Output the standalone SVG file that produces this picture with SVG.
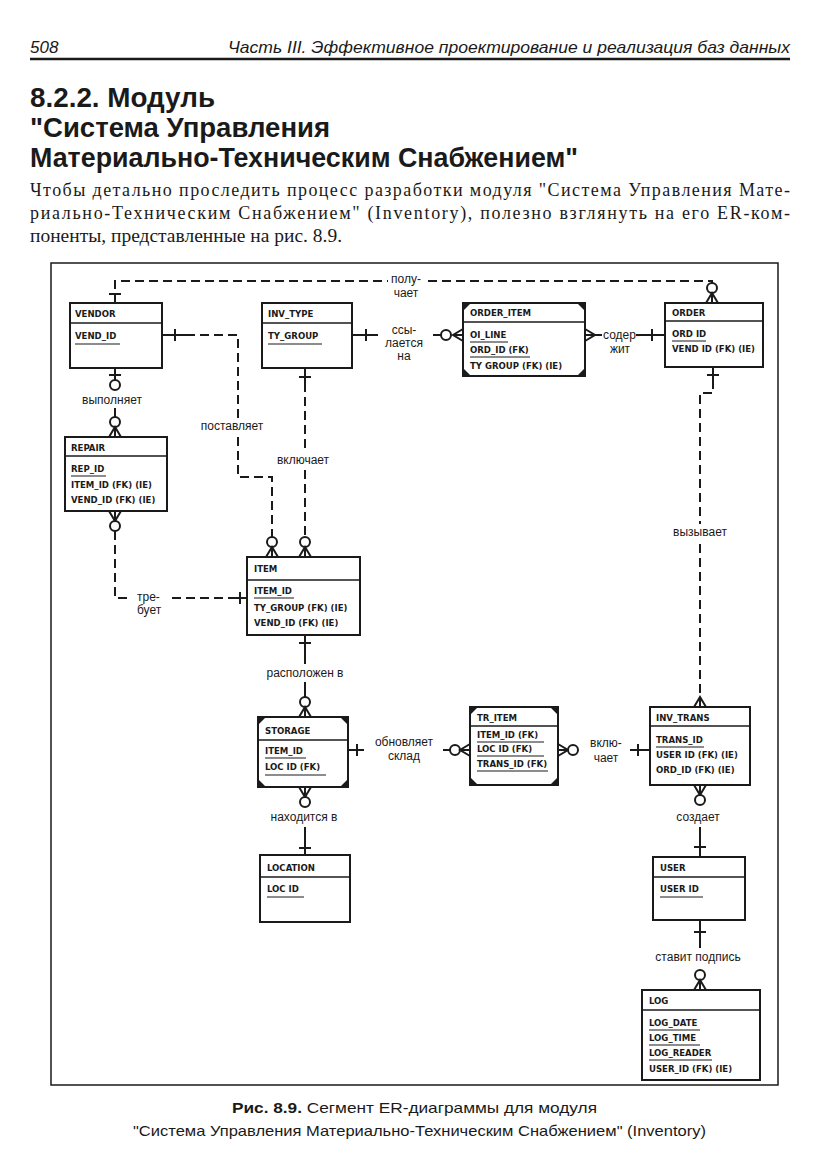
<svg xmlns="http://www.w3.org/2000/svg" width="831" height="1175" viewBox="0 0 831 1175">
<style>
.box{fill:#fff;stroke:#1a1a1a;stroke-width:2}
.dv{stroke:#1a1a1a;stroke-width:1.6}
.ul{stroke:#1a1a1a;stroke-width:1.1}
.ln{fill:none;stroke:#1a1a1a;stroke-width:2}
.ds{stroke-dasharray:9 5}
.ci{fill:#fff;stroke:#1a1a1a;stroke-width:2}
.cn{fill:#1a1a1a}
.et{font-family:"DejaVu Sans Condensed","DejaVu Sans",sans-serif;font-size:9.5px;font-weight:bold;fill:#1a1a1a}
.lb{font-family:"Liberation Sans",Arial,sans-serif;font-size:12px;fill:#1a1a1a}
.m{text-anchor:middle}
.hd{font-family:"Liberation Sans",Arial,sans-serif;font-style:italic;font-size:17px;fill:#1a1a1a}
.tt{font-family:"Liberation Sans",Arial,sans-serif;font-weight:bold;font-size:27px;fill:#1a1a1a}
.bd{font-family:"Liberation Serif","Times New Roman",serif;font-size:18px;fill:#1a1a1a}
.cp{font-family:"Liberation Sans",Arial,sans-serif;font-size:15px;fill:#1a1a1a}
</style>
<defs>
<path id="cf" d="M-6,0L0,-10L6,0M0,-10V0" fill="none" stroke="#1a1a1a" stroke-width="2"/>
</defs>

<!-- page header -->
<text class="hd" x="30" y="53">508</text>
<text class="hd" x="228" y="53" textLength="562" lengthAdjust="spacingAndGlyphs">Часть III. Эффективное проектирование и реализация баз данных</text>
<line x1="30" y1="59" x2="790" y2="59" stroke="#1a1a1a" stroke-width="2.5"/>

<text class="tt" x="30" y="107" textLength="185" lengthAdjust="spacingAndGlyphs">8.2.2. Модуль</text>
<text class="tt" x="30" y="137" textLength="300" lengthAdjust="spacingAndGlyphs">"Система Управления</text>
<text class="tt" x="30" y="167" textLength="548" lengthAdjust="spacingAndGlyphs">Материально-Техническим Снабжением"</text>

<text class="bd" x="30" y="196" textLength="760" lengthAdjust="spacing">Чтобы детально проследить процесс разработки модуля "Система Управления Мате-</text>
<text class="bd" x="30" y="219" textLength="760" lengthAdjust="spacing">риально-Техническим Снабжением" (Inventory), полезно взглянуть на его ER-ком-</text>
<text class="bd" x="30" y="242" textLength="312" lengthAdjust="spacingAndGlyphs">поненты, представленные на рис. 8.9.</text>

<!-- frame -->
<rect x="51" y="263" width="727" height="822" fill="none" stroke="#1a1a1a" stroke-width="1.5"/>

<!-- entities -->
<g id="vendor">
<rect class="box" x="70" y="303" width="92" height="65"/>
<line class="dv" x1="70" y1="323" x2="162" y2="323"/>
<text class="et" x="75" y="317">VENDOR</text>
<text class="et" x="75" y="339">VEND_ID</text>
<line class="ul" x1="75" y1="344" x2="120" y2="344"/>
</g>

<g id="inv_type">
<rect class="box" x="262" y="303" width="90" height="65"/>
<line class="dv" x1="262" y1="323" x2="352" y2="323"/>
<text class="et" x="268" y="317">INV_TYPE</text>
<text class="et" x="268" y="339">TY_GROUP</text>
<line class="ul" x1="268" y1="344" x2="322" y2="344"/>
</g>

<g id="order_item">
<rect class="box" x="463" y="303" width="122" height="73"/>
<path class="cn" d="M463,303h8l-8,8zM585,303h-8l8,8zM463,376h8l-8,-8zM585,376h-8l8,-8z"/>
<line class="dv" x1="463" y1="322" x2="585" y2="322"/>
<text class="et" x="470" y="316">ORDER_ITEM</text>
<text class="et" x="470" y="338">OI_LINE</text>
<line class="ul" x1="470" y1="342" x2="508" y2="342"/>
<text class="et" x="470" y="353">ORD_ID (FK)</text>
<line class="ul" x1="470" y1="357" x2="530" y2="357"/>
<text class="et" x="470" y="369">TY GROUP (FK) (IE)</text>
</g>

<g id="order">
<rect class="box" x="665" y="303" width="98" height="64"/>
<line class="dv" x1="665" y1="321" x2="763" y2="321"/>
<text class="et" x="672" y="316">ORDER</text>
<text class="et" x="672" y="337">ORD ID</text>
<line class="ul" x1="672" y1="341" x2="706" y2="341"/>
<text class="et" x="672" y="352">VEND ID (FK) (IE)</text>
</g>

<g id="repair">
<rect class="box" x="65" y="437" width="102" height="74"/>
<line class="dv" x1="65" y1="456" x2="167" y2="456"/>
<text class="et" x="71" y="451">REPAIR</text>
<text class="et" x="71" y="472">REP_ID</text>
<line class="ul" x1="71" y1="476" x2="106" y2="476"/>
<text class="et" x="71" y="488">ITEM_ID (FK) (IE)</text>
<text class="et" x="71" y="503">VEND_ID (FK) (IE)</text>
</g>

<g id="item">
<rect class="box" x="247" y="557" width="113" height="78"/>
<line class="dv" x1="247" y1="580" x2="360" y2="580"/>
<text class="et" x="254" y="572">ITEM</text>
<text class="et" x="254" y="594">ITEM_ID</text>
<line class="ul" x1="254" y1="598" x2="294" y2="598"/>
<text class="et" x="254" y="611">TY_GROUP (FK) (IE)</text>
<text class="et" x="254" y="626">VEND_ID (FK) (IE)</text>
</g>

<g id="storage">
<rect class="box" x="258" y="717" width="90" height="70"/>
<path class="cn" d="M258,717h8l-8,8zM348,717h-8l8,8zM258,787h8l-8,-8zM348,787h-8l8,-8z"/>
<line class="dv" x1="258" y1="740" x2="348" y2="740"/>
<text class="et" x="265" y="734">STORAGE</text>
<text class="et" x="265" y="754">ITEM_ID</text>
<line class="ul" x1="265" y1="758" x2="306" y2="758"/>
<text class="et" x="265" y="770">LOC ID (FK)</text>
<line class="ul" x1="265" y1="775" x2="326" y2="775"/>
</g>

<g id="tr_item">
<rect class="box" x="470" y="707" width="88" height="78"/>
<path class="cn" d="M470,707h8l-8,8zM558,707h-8l8,8zM470,785h8l-8,-8zM558,785h-8l8,-8z"/>
<line class="dv" x1="470" y1="726" x2="558" y2="726"/>
<text class="et" x="477" y="721">TR_ITEM</text>
<text class="et" x="477" y="738">ITEM_ID (FK)</text>
<line class="ul" x1="477" y1="742" x2="544" y2="742"/>
<text class="et" x="477" y="752">LOC ID (FK)</text>
<line class="ul" x1="477" y1="756" x2="544" y2="756"/>
<text class="et" x="477" y="767">TRANS_ID (FK)</text>
<line class="ul" x1="477" y1="771" x2="548" y2="771"/>
</g>

<g id="inv_trans">
<rect class="box" x="650" y="707" width="100" height="78"/>
<line class="dv" x1="650" y1="726" x2="750" y2="726"/>
<text class="et" x="656" y="721">INV_TRANS</text>
<text class="et" x="656" y="743">TRANS_ID</text>
<line class="ul" x1="656" y1="747" x2="704" y2="747"/>
<text class="et" x="656" y="758">USER ID (FK) (IE)</text>
<text class="et" x="656" y="773">ORD_ID (FK) (IE)</text>
</g>

<g id="location">
<rect class="box" x="260" y="855" width="90" height="67"/>
<line class="dv" x1="260" y1="877" x2="350" y2="877"/>
<text class="et" x="267" y="871">LOCATION</text>
<text class="et" x="267" y="892">LOC ID</text>
<line class="ul" x1="267" y1="897" x2="304" y2="897"/>
</g>

<g id="user">
<rect class="box" x="653" y="857" width="92" height="63"/>
<line class="dv" x1="653" y1="877" x2="745" y2="877"/>
<text class="et" x="660" y="871">USER</text>
<text class="et" x="660" y="892">USER ID</text>
<line class="ul" x1="660" y1="897" x2="703" y2="897"/>
</g>

<g id="log">
<rect class="box" x="642" y="990" width="118" height="90"/>
<line class="dv" x1="642" y1="1010" x2="760" y2="1010"/>
<text class="et" x="649" y="1004">LOG</text>
<text class="et" x="649" y="1026">LOG_DATE</text>
<line class="ul" x1="649" y1="1030" x2="700" y2="1030"/>
<text class="et" x="649" y="1041">LOG_TIME</text>
<line class="ul" x1="649" y1="1045" x2="700" y2="1045"/>
<text class="et" x="649" y="1056">LOG_READER</text>
<line class="ul" x1="649" y1="1060" x2="712" y2="1060"/>
<text class="et" x="649" y="1072">USER_ID (FK) (IE)</text>
</g>

<!-- connectors -->
<g id="connectors">
<!-- получает -->
<path class="ln ds" d="M115,303V281H388"/>
<path class="ln ds" d="M428,281H712V283"/>
<path class="ln" d="M109,294H121"/>
<circle class="ci" cx="712" cy="288" r="5"/>
<use href="#cf" transform="translate(712,303)"/>
<text class="lb m" x="406" y="283">полу-</text>
<text class="lb m" x="406" y="297">чает</text>

<!-- поставляет -->
<path class="ln" d="M162,335H186M175,329V341"/>
<path class="ln ds" d="M186,335H238V418"/>
<text class="lb m" x="232" y="430">поставляет</text>
<path class="ln ds" d="M238,437V477H272V537"/>
<circle class="ci" cx="272" cy="542" r="5"/>
<use href="#cf" transform="translate(272,557)"/>

<!-- выполняет -->
<path class="ln" d="M115,368V380M109,375H121"/>
<circle class="ci" cx="115" cy="385" r="5"/>
<text class="lb m" x="112" y="404">выполняет</text>
<path class="ln" d="M115,408V417"/>
<circle class="ci" cx="115" cy="422" r="5"/>
<use href="#cf" transform="translate(115,437)"/>

<!-- включает -->
<path class="ln" d="M305,368V383M299,377H311"/>
<path class="ln ds" d="M305,383V452"/>
<text class="lb m" x="303" y="464">включает</text>
<path class="ln ds" d="M305,470V537"/>
<circle class="ci" cx="305" cy="542" r="5"/>
<use href="#cf" transform="translate(305,557)"/>

<!-- ссылается на -->
<path class="ln" d="M352,335H378M366,329V341"/>
<text class="lb m" x="404" y="334">ссы-</text>
<text class="lb m" x="404" y="347">лается</text>
<text class="lb m" x="404" y="360">на</text>
<path class="ln" d="M433,335H441"/>
<circle class="ci" cx="446" cy="335" r="5"/>
<use href="#cf" transform="translate(463,335) rotate(-90)"/>

<!-- содержит -->
<use href="#cf" transform="translate(585,335) rotate(90)"/>
<path class="ln" d="M595,335H602"/>
<text class="lb" x="603" y="339">содер-</text>
<text class="lb m" x="620" y="353">жит</text>
<path class="ln" d="M636,335H665M652,329V341"/>

<!-- требует -->
<use href="#cf" transform="translate(115,511) rotate(180)"/>
<circle class="ci" cx="115" cy="526" r="5"/>
<path class="ln ds" d="M115,531V598H128"/>
<text class="lb" x="137" y="601">тре-</text>
<text class="lb" x="137" y="614">бует</text>
<path class="ln ds" d="M172,598H237"/>
<path class="ln" d="M237,598H247M240,592V604"/>

<!-- расположен в -->
<path class="ln" d="M305,635V664M299,643H311"/>
<text class="lb m" x="305" y="677">расположен в</text>
<path class="ln" d="M305,682V697"/>
<circle class="ci" cx="305" cy="702" r="5"/>
<use href="#cf" transform="translate(305,717)"/>

<!-- обновляет склад -->
<path class="ln" d="M348,750H364M357,744V756"/>
<text class="lb m" x="404" y="746">обновляет</text>
<text class="lb m" x="404" y="760">склад</text>
<path class="ln" d="M443,750H450"/>
<circle class="ci" cx="455" cy="750" r="5"/>
<use href="#cf" transform="translate(470,750) rotate(-90)"/>

<!-- включает (TR_ITEM) -->
<use href="#cf" transform="translate(558,750) rotate(90)"/>
<circle class="ci" cx="573" cy="750" r="5"/>
<text class="lb m" x="606" y="747">вклю-</text>
<text class="lb m" x="606" y="762">чает</text>
<path class="ln" d="M630,750H650M638,744V756"/>

<!-- вызывает -->
<path class="ln" d="M713,367V380M707,375H719"/>
<path class="ln ds" d="M713,380V393H700V524"/>
<text class="lb m" x="700" y="536">вызывает</text>
<path class="ln ds" d="M700,544V697"/>
<use href="#cf" transform="translate(700,707)"/>

<!-- создает -->
<use href="#cf" transform="translate(700,785) rotate(180)"/>
<circle class="ci" cx="700" cy="800" r="5"/>
<text class="lb m" x="698" y="821">создает</text>
<path class="ln" d="M700,827V857M694,847H706"/>

<!-- находится в -->
<use href="#cf" transform="translate(305,787) rotate(180)"/>
<circle class="ci" cx="305" cy="802" r="5"/>
<text class="lb m" x="304" y="821">находится в</text>
<path class="ln" d="M305,827V855M299,848H311"/>

<!-- ставит подпись -->
<path class="ln" d="M700,920V948M694,932H706"/>
<text class="lb m" x="698" y="961">ставит подпись</text>
<circle class="ci" cx="700" cy="975" r="5"/>
<use href="#cf" transform="translate(700,990)"/>
</g>

<!-- caption -->
<text class="cp" x="232" y="1113" textLength="365" lengthAdjust="spacingAndGlyphs"><tspan font-weight="bold">Рис. 8.9.</tspan> Сегмент ER-диаграммы для модуля</text>
<text class="cp" x="133" y="1136" textLength="573" lengthAdjust="spacingAndGlyphs">"Система Управления Материально-Техническим Снабжением" (Inventory)</text>
</svg>
